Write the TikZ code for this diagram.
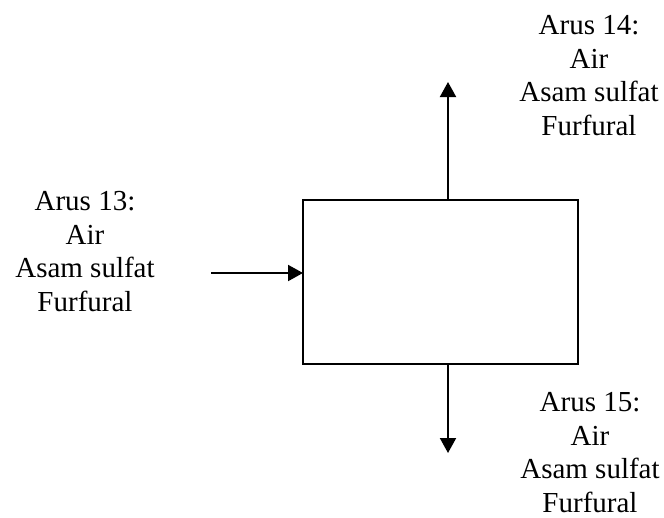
\documentclass[tikz,border=0pt]{standalone}
\usepackage{fontspec}
\setmainfont{Liberation Serif}
\usetikzlibrary{arrows.meta}
\begin{document}
\begin{tikzpicture}[x=1pt,y=-1pt,
  unit/.style={draw,line width=1.6pt,minimum width=275pt,minimum height=164pt,inner sep=0pt},
  flow/.style={line width=2pt,-{Triangle[length=15pt,width=16pt]}},
  streamlabel/.style={align=center,anchor=base,inner sep=0pt,font=\fontsize{29}{33.5}\selectfont}]
\useasboundingbox (0,0) rectangle (664,517);
\node[unit] (box) at (440.5,282) {};
% connection points on the unit
\coordinate (inpt) at (303,273);
\coordinate (top) at (448,200);
\coordinate (bot) at (448,364);
\coordinate (src) at (211,273);
\coordinate (upend) at (448,82);
\coordinate (downend) at (448,453);
\draw[flow] (src) -- (inpt);
\draw[flow] (top) -- (upend);
\draw[flow] (bot) -- (downend);
% the base anchor sits on the last line of each label
\node[streamlabel] (s13) at (85,311) {Arus 13:\\Air\\Asam sulfat\\Furfural};
\node[streamlabel] (s14) at (589,135) {Arus 14:\\Air\\Asam sulfat\\Furfural};
\node[streamlabel] (s15) at (590,512) {Arus 15:\\Air\\Asam sulfat\\Furfural};
\end{tikzpicture}
\end{document}
